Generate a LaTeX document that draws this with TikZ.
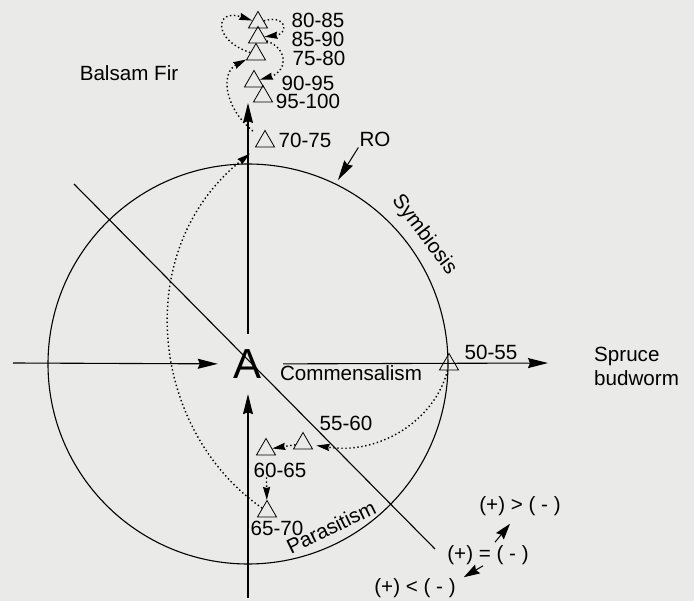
\documentclass[tikz,border=0pt]{standalone}
\usepackage{fontspec}
\setmainfont{Liberation Sans}
\usetikzlibrary{arrows.meta, shapes.geometric}
\definecolor{paper}{RGB}{234,234,232}

\begin{document}
\begin{tikzpicture}[x=1pt, y=-1pt, >={Stealth[length=20pt,width=10pt,inset=2pt]},
    tri/.style={draw, regular polygon, regular polygon sides=3, minimum size=22pt, inner sep=0pt, line width=0.8pt},
    lbl/.style={font=\fontsize{20.6}{24}\selectfont, inner sep=1pt},
    trail/.style={line width=1.4pt, dash pattern=on 1.4pt off 2.6pt, -{Stealth[length=13pt,width=7pt,inset=1pt]}},
    axis/.style={line width=1.1pt, ->}]
            \fill[paper] (0,0) rectangle (694,601);
            \useasboundingbox (0,0) rectangle (694,601);

            \coordinate (O) at (248,364);
            \coordinate (west) at (13,363);
            \coordinate (south) at (248,598);
            \coordinate (firtip) at (248,103);
            \coordinate (budtip) at (548,363);
            \coordinate (d1) at (74,184);
            \coordinate (d2) at (435,549);
            \coordinate (rotip) at (338,180);

            \draw[line width=1.1pt] (O) circle[radius=200pt];
            \draw[line width=1.1pt] (d1) -- (d2);

            \node[circle, minimum size=60pt, inner sep=0pt, font=\fontsize{42}{42}\selectfont] (A) at (248,364) {A};
            \draw[axis] (west) -- (A);
            \draw[axis] (south) -- (A);
            \draw[axis] (A) -- (firtip);
            \draw[axis, shorten <=5pt] (A) -- (budtip);

            % cac tam giac theo nam
            \node[tri] (t5055) at (449,364.5) {};
            \node[tri] (t5560) at (303,443.5) {};
            \node[tri] (t6065) at (266,449.5) {};
            \node[tri] (t6570) at (267,511.5) {};
            \node[tri] (t7075) at (265,141.5) {};
            \node[tri] (t7580) at (256,54.5) {};
            \node[tri] (t8085) at (258,22.5) {};
            \node[tri] (t8590) at (258,37.5) {};
            \node[tri] (t9095) at (254,81.5) {};
            \node[tri] (t95100) at (263,96.5) {};

            \node[lbl] (l5055) at (491,352) {50-55};
            \node[lbl] (l5560) at (346,423) {55-60};
            \node[lbl] (l6065) at (280,470) {60-65};
            \node[lbl] (l6570) at (277,528) {65-70};
            \node[lbl] (l7075) at (305,140) {70-75};
            \node[lbl] (l7580) at (319,58.5) {75-80};
            \node[lbl] (l8085) at (318,20) {80-85};
            \node[lbl] (l8590) at (318,39) {85-90};
            \node[lbl] (l9095) at (308,83) {90-95};
            \node[lbl] (l95100) at (308,101) {95-100};

            \draw[trail, shorten >=6pt] (t5055) .. controls (435,420) and (380,455) .. (t5560);
            \draw[trail] (t5560) -- (t6065);
            \draw[trail, shorten <=22pt] (t6065) -- (t6570);
            \draw[trail, shorten >=10pt] (t6570) .. controls (150,430) and (130,250) .. (t7075);
            \draw[trail, shorten <=10pt] (t7075) .. controls (222,105) and (222,72) .. (t7580);
            \draw[trail] (t7580) .. controls (212,40) and (215,8) .. (t8085);
            \draw[trail] (t8085) .. controls (288,14) and (288,34) .. (t8590);
            \draw[trail] (t8590) .. controls (290,50) and (286,72) .. (t9095);

            \node[lbl] (RO) at (375,139) {RO};
            \draw[->, line width=1pt] (RO.south west) -- (rotip);

            \node[lbl] (fir) at (129,73) {Balsam Fir};
            \node[lbl, align=left, anchor=west] (bud) at (593,366) {Spruce\\budworm};
            \node[lbl] (comm) at (351,373) {Commensalism};
            \node[lbl, rotate=-53] (symb) at (424,235) {Symbiosis};
            \node[lbl, rotate=26] (para) at (331,527) {Parasitism};

            \node[lbl] (gt) at (520,506) {(+) > ( - )};
            \node[lbl] (eq) at (488,555) {(+) = ( - )};
            \node[lbl] (lt) at (415,588) {(+) < ( - )};
            \draw[->, >={Stealth[length=16pt,width=10pt,inset=2pt]}, line width=1pt] ([shift={(7pt,2pt)}]eq.north) -- ([shift={(-10pt,-7pt)}]gt.south);
            \draw[->, >={Stealth[length=16pt,width=10pt,inset=2pt]}, line width=1pt] ([xshift=-5pt]eq.south) -- ([xshift=7pt]lt.north east);
        \end{tikzpicture}
\end{document}
